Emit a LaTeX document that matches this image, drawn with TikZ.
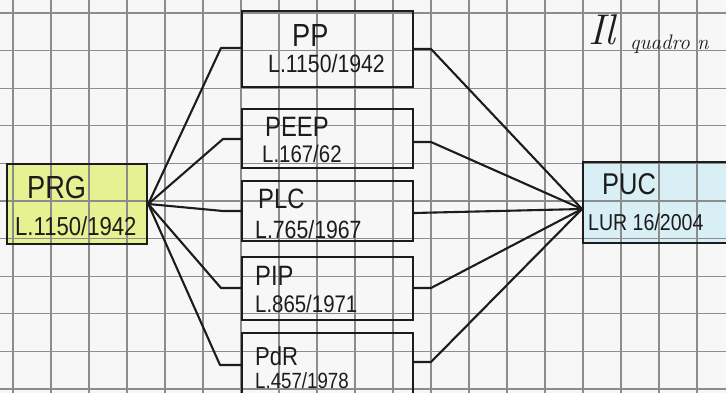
\documentclass[tikz,border=0pt]{standalone}
\usepackage{fontspec}
\newfontfamily\hand[FakeStretch=0.85]{Liberation Sans}
\definecolor{paper}{RGB}{247,247,247}
\definecolor{gridc}{RGB}{140,140,140}
\definecolor{ink}{RGB}{28,28,28}
\definecolor{prgfill}{RGB}{230,241,145}
\definecolor{pucfill}{RGB}{216,239,245}
\tikzset{
  box/.style={draw=ink, line width=2.5pt, rectangle, inner sep=0pt},
  wire/.style={draw=ink, line width=2.1pt, line join=round, line cap=round},
  lbl/.style={anchor=base west, inner sep=0pt, text=ink},
}
\newcommand{\handsz}[1]{\hand\fontsize{#1}{#1}\selectfont}
\begin{document}
\begin{tikzpicture}[x=1pt,y=-1pt]
  \useasboundingbox (0,0) rectangle (726,393);
  \clip (0,0) rectangle (726,393);
  \fill[paper] (0,0) rectangle (726,393);

  % coloured fills go under the squared paper
  \fill[prgfill] (7,164) rectangle (147,244);
  \fill[pucfill] (583,162) rectangle (745,243);

  % squared paper
  \foreach \i in {0,...,19} \draw[gridc, line width=1.1pt] ({13+38*\i},0) -- ({13+38*\i},393);
  \foreach \j in {0,...,10} \draw[gridc, line width=1.1pt] (0,{13+37.6*\j}) -- (726,{13+37.6*\j});

  % boxes
  \node[box, minimum width=140pt, minimum height=80pt] (prg) at (77,204) {};
  \node[box, minimum width=171pt, minimum height=76pt] (pp) at (327.5,49) {};
  \node[box, minimum width=171pt, minimum height=59pt] (peep) at (327.5,138.5) {};
  \node[box, minimum width=171pt, minimum height=60pt] (plc) at (327.5,211) {};
  \node[box, minimum width=171pt, minimum height=63pt] (pip) at (327.5,288.5) {};
  \node[box, minimum width=171pt, minimum height=72pt] (pdr) at (327.5,369) {};
  \node[box, minimum width=162pt, minimum height=81pt] (puc) at (664,202.5) {};

  % labels
  \node[lbl] (tprg) at (27,198) {\handsz{32}PRG};
  \node[lbl] (lprg) at (15,235) {\handsz{26}L.1150/1942};
  \node[lbl] (tpp) at (292,47) {\handsz{32}PP};
  \node[lbl] (lpp) at (268,73) {\handsz{25}L.1150/1942};
  \node[lbl] (tpeep) at (265,137) {\handsz{28}PEEP};
  \node[lbl] (lpeep) at (262,163) {\handsz{24}L.167/62};
  \node[lbl] (tplc) at (258,208) {\handsz{28}PLC};
  \node[lbl] (lplc) at (255,238) {\handsz{25}L.765/1967};
  \node[lbl] (tpip) at (255,285) {\handsz{28}PIP};
  \node[lbl] (lpip) at (255,312) {\handsz{24}L.865/1971};
  \node[lbl] (tpdr) at (255,365) {\handsz{26}PdR};
  \node[lbl] (lpdr) at (255,388) {\handsz{22}L.457/1978};
  \node[lbl] (tpuc) at (602,195) {\handsz{30}PUC};
  \node[lbl] (lpuc) at (588,230) {\handsz{23}LUR 16/2004};
  \node[lbl] (title) at (588,45) {\itshape\fontsize{43}{43}\selectfont Il};
  \node[lbl] (sub) at (630,50) {\itshape\fontsize{21}{21}\selectfont quadro n};

  % fan-out from PRG
  \coordinate (a1) at (221,48);
  \coordinate (a2) at (223,139);
  \coordinate (a3) at (223,211);
  \coordinate (a4) at (221,288);
  \coordinate (a5) at (220,365);
  \draw[wire] (prg.east) -- (a1) -- (a1 -| pp.west);
  \draw[wire] (prg.east) -- (a2) -- (a2 -| peep.west);
  \draw[wire] (prg.east) -- (a3) -- (a3 -| plc.west);
  \draw[wire] (prg.east) -- (a4) -- (a4 -| pip.west);
  \draw[wire] (prg.east) -- (a5) -- (a5 -| pdr.west);

  % fan-in to PUC
  \coordinate (hub) at (582,209);
  \coordinate (b1) at (431,49);
  \coordinate (b2) at (431,142);
  \coordinate (b3) at (413,213);
  \coordinate (b4) at (431,288);
  \coordinate (b5) at (431,362);
  \draw[wire] (b1 -| pp.east) -- (b1) -- (hub);
  \draw[wire] (b2 -| peep.east) -- (b2) -- (hub);
  \draw[wire] (b3 -| plc.east) -- (hub);
  \draw[wire] (b4 -| pip.east) -- (b4) -- (hub);
  \draw[wire] (b5 -| pdr.east) -- (b5) -- (hub);
\end{tikzpicture}
\end{document}
